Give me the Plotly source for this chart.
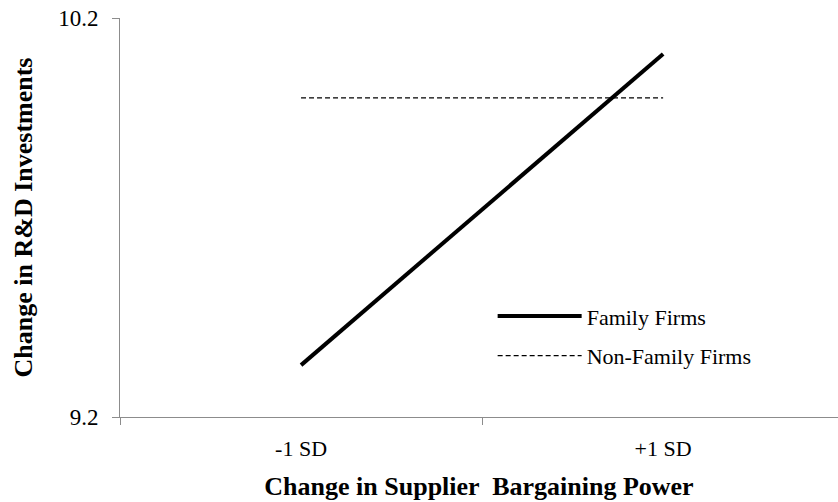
import plotly.graph_objects as go

categories = ["-1 SD", "+1 SD"]
family_firms = [9.33, 10.11]
non_family_firms = [10.0, 10.0]
y_tick_vals = [9.2, 10.2]
y_tick_text = ["9.2", "10.2"]

SERIF = "Liberation Serif, Times New Roman, serif"
AXIS_COLOR = "#8c8c8c"

fig = go.Figure()
fig.add_trace(go.Scatter(
    x=categories, y=family_firms, mode="lines", name="Family Firms",
    line=dict(color="black", width=4), legendgroup="a",
))
fig.add_trace(go.Scatter(
    x=categories, y=non_family_firms, mode="lines", name="Non-Family Firms",
    line=dict(color="black", width=1.2, dash="5px,3px"), legendgroup="b",
))

fig.update_layout(
    width=838, height=502, autosize=False,
    margin=dict(l=120, r=0, t=18, b=85),
    paper_bgcolor="white", plot_bgcolor="white",
    font=dict(family=SERIF, color="black", size=22),
    showlegend=True,
    legend=dict(
        x=0.519, y=0.305, xanchor="left", yanchor="top",
        bgcolor="rgba(0,0,0,0)", itemwidth=84, tracegroupgap=8,
        font=dict(family=SERIF, size=22, color="black"),
    ),
    xaxis=dict(
        type="category", categoryorder="array", categoryarray=categories,
        range=[-0.5, 1.483], tickson="boundaries",
        showline=True, linecolor=AXIS_COLOR, linewidth=1,
        ticks="outside", ticklen=7, tickcolor=AXIS_COLOR,
        showgrid=False, zeroline=False,
        tickfont=dict(family=SERIF, size=22, color="black"),
        ticklabelstandoff=12,
        title=dict(text="<b>Change in Supplier  Bargaining Power</b>",
                   font=dict(family=SERIF, size=26, color="black"), standoff=16),
    ),
    yaxis=dict(
        range=[9.2, 10.2], tickvals=y_tick_vals, ticktext=y_tick_text,
        showline=True, linecolor=AXIS_COLOR, linewidth=1,
        ticks="outside", ticklen=7, tickcolor=AXIS_COLOR,
        showgrid=False, zeroline=False,
        tickfont=dict(family=SERIF, size=23, color="black"),
        ticklabelstandoff=9,
        title=dict(text="<b>Change in R&D Investments</b>",
                   font=dict(family=SERIF, size=26, color="black"), standoff=18),
    ),
)

fig.write_html(
    "out.html",
    config={"displayModeBar": False},
    post_script="document.body.style.margin='0';document.body.style.overflow='hidden';",
)
